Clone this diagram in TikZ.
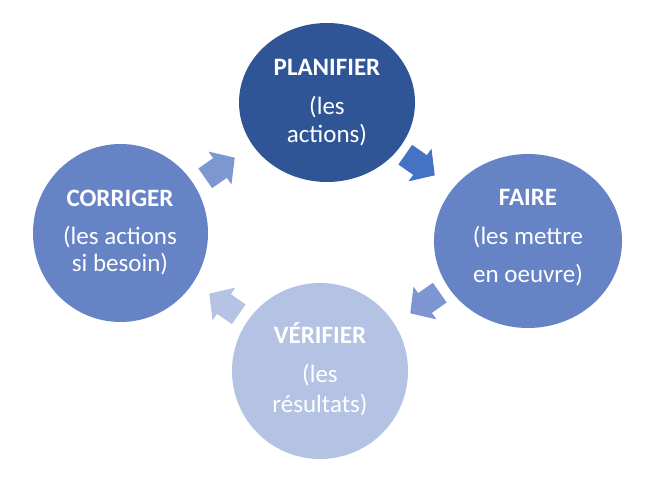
\documentclass[tikz,border=0pt]{standalone}
\usepackage{fontspec}
\setmainfont{Carlito}
\usetikzlibrary{shapes.geometric}
\definecolor{cPlan}{HTML}{2F5597}
\definecolor{cMid}{HTML}{6683C6}
\definecolor{cLight}{HTML}{B4C3E3}
\definecolor{cArrA}{HTML}{4472C4}
\definecolor{cArrB}{HTML}{7D95D0}
\definecolor{cArrC}{HTML}{B5C3E4}
\definecolor{cArrD}{HTML}{7F97D1}
\begin{document}
\begin{tikzpicture}[x=1pt,y=1pt,
  disk/.style={ellipse,inner sep=0pt,draw=none},
  lbl/.style={anchor=base,text=white,inner sep=0pt,font=\fontsize{25}{30}\selectfont},
  ttl/.style={anchor=base,text=white,inner sep=0pt,font=\fontsize{25}{30}\selectfont\bfseries},
  cyclearrow/.pic={\fill (-18,-12) -- (0,-12) -- (0,-20) -- (18,0) -- (0,20) -- (0,12) -- (-18,12) -- cycle;}]
\useasboundingbox (0,0) rectangle (655,487);
% circles
\node[disk,fill=cPlan,minimum width=176pt,minimum height=159pt] (plan) at (327,384.5) {};
\node[disk,fill=cMid,minimum width=188pt,minimum height=174pt] (faire) at (528,246) {};
\node[disk,fill=cLight,minimum width=176pt,minimum height=176pt] (verif) at (320,116) {};
\node[disk,fill=cMid,minimum width=175pt,minimum height=178pt] (corr) at (120.5,254) {};
% arrows
\pic[fill=cArrA,rotate=-35] (arrA) at (420,322) {cyclearrow};
\pic[fill=cArrB,rotate=215] (arrB) at (425,184) {cyclearrow};
\pic[fill=cArrC,rotate=145] (arrC) at (224,183) {cyclearrow};
\pic[fill=cArrD,rotate=35] (arrD) at (220,319) {cyclearrow};
% texts
\node[ttl] (plan1) at (327,411) {PLANIFIER};
\node[lbl] (plan2) at (327,372) {(les};
\node[lbl] (plan3) at (327,344) {actions)};
\node[ttl] (faire1) at (528,281) {FAIRE};
\node[lbl] (faire2) at (528,242) {(les mettre};
\node[lbl] (faire3) at (528,204) {en oeuvre)};
\node[ttl] (verif1) at (320,143) {VÉRIFIER};
\node[lbl] (verif2) at (320,104) {(les};
\node[lbl] (verif3) at (320,75) {résultats)};
\node[ttl] (corr1) at (120,280) {CORRIGER};
\node[lbl] (corr2) at (120,242) {(les actions};
\node[lbl] (corr3) at (120,215) {si besoin)};
\end{tikzpicture}
\end{document}
